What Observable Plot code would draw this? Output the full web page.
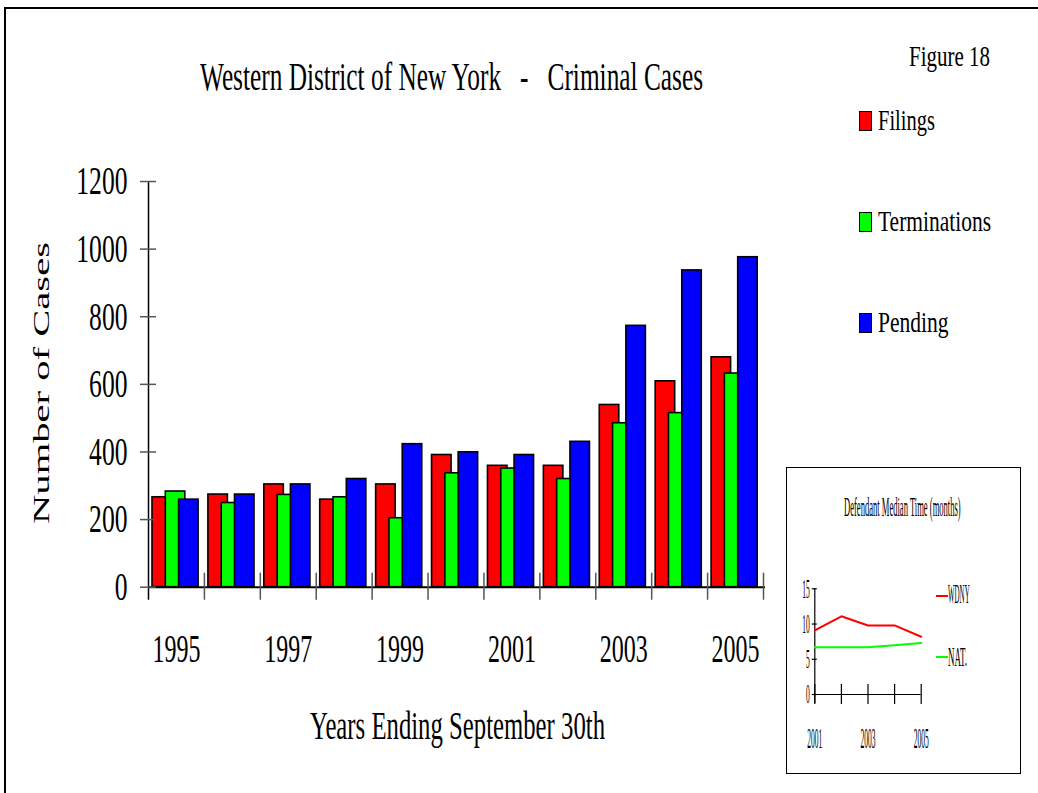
<!DOCTYPE html>
<html>
<head>
<meta charset="utf-8">
<script src="https://cdn.jsdelivr.net/npm/d3@7"></script>
<script src="https://cdn.jsdelivr.net/npm/@observablehq/plot@0.6"></script>
<style>
  html, body { margin: 0; padding: 0; background: #fff; }
  body { width: 1038px; height: 793px; overflow: hidden; position: relative; font-family: 'Liberation Serif', 'Times New Roman', serif; }
  .abs { position: absolute; }
  .txt { position: absolute; white-space: pre; line-height: 1; color: #000; font-family: 'Liberation Serif', 'Times New Roman', serif; }
</style>
</head>
<body>
<div id="frame" class="abs" style="left:4px;top:7px;width:1100px;height:900px;border-top:2px solid #000;border-left:2px solid #000;"></div>
<div id="main" class="abs" style="left:0;top:160px;"></div>
<div id="insetBox" class="abs" style="left:786px;top:467px;width:235px;height:307px;border:1.5px solid #000;box-sizing:border-box;"></div>
<div id="inset" class="abs" style="left:787px;top:468px;"></div>
<script>
// ---------- data ----------
const years = [1995, 1996, 1997, 1998, 1999, 2000, 2001, 2002, 2003, 2004, 2005];
const filings      = [266, 274, 304, 259, 304, 391, 359, 359, 539, 609, 680];
const terminations = [283, 249, 273, 266, 204, 337, 351, 320, 485, 515, 632];
const pending      = [259, 274, 304, 320, 423, 399, 391, 430, 773, 937, 976];
const seriesNames = ["Filings", "Terminations", "Pending"];
const seriesColors = ["#ff0000", "#00ff00", "#0000ff"];
const yTicks = [0, 200, 400, 600, 800, 1000, 1200];
const xLabelYears = [1995, 1997, 1999, 2001, 2003, 2005];

const insetYears = [2001, 2002, 2003, 2004, 2005];
const wdny = [9.1, 11.1, 9.8, 9.8, 8.2];
const nat  = [6.7, 6.7, 6.7, 7.0, 7.3];
const insetYTicks = [0, 5, 10, 15];
const insetXLabels = [2001, 2003, 2005];
const insetSeries = ["WDNY", "NAT."];
const insetColors = ["#ff0000", "#00ff00"];

// ---------- main chart ----------
const W = 790, H = 510, mL = 148, mR = 27, mT = 21, mB = 83.3;
const xPx = (W - mL - mR) / 11;          // px per year band
const yPx = (H - mT - mB) / 1200;        // px per case
const barOff = 4 / xPx, barStep = 13.3 / xPx, barW = 19.5 / xPx;

const values = [filings, terminations, pending];
const rows = seriesNames.flatMap((s, si) =>
  years.map((yr, i) => ({year: yr, series: s, si, value: values[si][i]})));
const boundaries = years.map(y => y + 0.5);

const main = Plot.plot({
  width: W, height: H,
  marginLeft: mL, marginRight: mR, marginTop: mT, marginBottom: mB,
  style: {fontFamily: "'Liberation Serif', 'Times New Roman', serif", fontSize: "40px", color: "#000", background: "transparent", overflow: "visible"},
  x: {type: "linear", domain: [1994.5, 2005.5]},
  y: {domain: [0, 1200]},
  color: {domain: seriesNames, range: seriesColors},
  marks: [
    Plot.rectY(rows, {
      x1: d => d.year - 0.5 + barOff + d.si * barStep,
      x2: d => d.year - 0.5 + barOff + d.si * barStep + barW,
      y1: 0, y2: "value",
      fill: "series", stroke: "#000", strokeWidth: 1.6
    }),
    Plot.ruleX([1994.5], {y1: -13 / yPx, y2: 1200, stroke: "#000", strokeWidth: 1.5}),
    Plot.ruleY([0], {x1: 1994.5, x2: 2005.5 + 2 / xPx, stroke: "#000", strokeWidth: 2}),
    Plot.ruleX(boundaries, {y1: -13 / yPx, y2: 14 / yPx, stroke: "#555", strokeWidth: 1.5}),
    Plot.ruleY(yTicks, {x1: 1994.5 - 8 / xPx, x2: 1994.5 + 8 / xPx, stroke: "#555", strokeWidth: 1.5}),
    Plot.axisY({ticks: yTicks, anchor: "left", label: null, tickSize: 0, tickPadding: 21, fontSize: 40, tickFormat: d => String(d)}),
    Plot.axisX({ticks: xLabelYears, anchor: "bottom", label: null, tickSize: 0, tickPadding: 46.6, fontSize: 40, tickFormat: d => String(d)})
  ]
});
document.getElementById("main").appendChild(main);

// ---------- inset chart ----------
const IW = 234, IH = 306, imL = 27.3, imR = 100.3, imT = 120.3, imB = 80;
const ixPx = (IW - imL - imR) / 4;
const iyPx = (IH - imT - imB) / 15;
const inset = Plot.plot({
  width: IW, height: IH,
  marginLeft: imL, marginRight: imR, marginTop: imT, marginBottom: imB,
  style: {fontFamily: "'Liberation Serif', 'Times New Roman', serif", fontSize: "28px", color: "#000", background: "transparent", overflow: "visible"},
  x: {type: "linear", domain: [2001, 2005]},
  y: {domain: [0, 15]},
  marks: [
    Plot.ruleX([2001], {y1: -9 / iyPx, y2: 15, stroke: "#000", strokeWidth: 1.2}),
    Plot.ruleY([0], {x1: 2001, x2: 2005, stroke: "#000", strokeWidth: 1.2}),
    Plot.ruleX(insetYears, {y1: -10 / iyPx, y2: 10 / iyPx, stroke: "#000", strokeWidth: 1.2}),
    Plot.ruleY(insetYTicks, {x1: 2001 - 2.5 / ixPx, x2: 2001 + 2.5 / ixPx, stroke: "#000", strokeWidth: 1.2}),
    Plot.line(insetYears, {x: d => d, y: (d, i) => wdny[i], stroke: insetColors[0], strokeWidth: 2}),
    Plot.line(insetYears, {x: d => d, y: (d, i) => nat[i], stroke: insetColors[1], strokeWidth: 2}),
    Plot.axisY({ticks: insetYTicks, anchor: "left", label: null, tickSize: 0, tickPadding: 5, fontSize: 28, tickFormat: d => String(d)}),
    Plot.axisX({ticks: insetXLabels, anchor: "bottom", label: null, tickSize: 0, tickPadding: 33.4, fontSize: 29, tickFormat: d => String(d)})
  ]
});
document.getElementById("inset").appendChild(inset);

// condense svg tick labels (the original uses a narrow Times face)
function condense(svg, sel, k) {
  svg.querySelectorAll(sel).forEach(t => {
    const w = t.getComputedTextLength();
    t.setAttribute("textLength", (w * k).toFixed(2));
    t.setAttribute("lengthAdjust", "spacingAndGlyphs");
  });
}
condense(main, 'g[aria-label="y-axis tick label"] text', 0.64);
condense(main, 'g[aria-label="x-axis tick label"] text', 0.6);
condense(inset, 'g[aria-label="y-axis tick label"] text', 0.27);
condense(inset, 'g[aria-label="x-axis tick label"] text', 0.26);

// ---------- html texts ----------
function placeText(str, left, baseline, size, width) {
  const s = document.createElement("span");
  s.className = "txt";
  s.textContent = str;
  s.style.fontSize = size + "px";
  s.style.left = left + "px";
  s.style.top = (baseline - 0.8375 * size) + "px";
  document.body.appendChild(s);
  const nat = s.getBoundingClientRect().width;
  s.style.transformOrigin = "0 0";
  s.style.transform = `scaleX(${width / nat})`;
  return s;
}
placeText("Western District of New York   -   Criminal Cases", 200, 90, 40, 503);
placeText("Figure 18", 909, 66, 30, 81);
placeText("Years Ending September 30th", 310, 739.3, 40, 295);

// y axis title (rotated, stretched)
(function () {
  const s = document.createElement("span");
  s.className = "txt";
  s.textContent = "Number of Cases";
  s.style.fontSize = "24px";
  document.body.appendChild(s);
  const nat = s.getBoundingClientRect().width;
  const k = 282 / nat;
  s.style.left = "41px";
  s.style.top = "383px";
  s.style.transform = `translate(-50%, -50%) rotate(-90deg) scaleX(${k})`;
})();

// main legend
const legendBaselines = [130, 231, 332.7];
const legendWidths = [57, 113, 70.6];
seriesNames.forEach((name, i) => {
  const sw = document.createElement("div");
  sw.className = "abs";
  Object.assign(sw.style, {
    left: "859px", top: (legendBaselines[i] - 19.5) + "px", width: "13px", height: "20px",
    background: seriesColors[i], border: "1.5px solid #000", boxSizing: "border-box"
  });
  document.body.appendChild(sw);
  placeText(name, 878, legendBaselines[i], 29, legendWidths[i]);
});

// inset title & legend
placeText("Defendant Median Time (months)", 844, 516.3, 27, 116.7);
const insetLegendY = [596, 657.3];
const insetLegendBase = [603, 666.7];
const insetLegendW = [21.7, 19];
insetSeries.forEach((name, i) => {
  const ln = document.createElement("div");
  ln.className = "abs";
  Object.assign(ln.style, {left: "935.7px", top: (insetLegendY[i] - 1) + "px", width: "12.6px", height: "2px", background: insetColors[i]});
  document.body.appendChild(ln);
  placeText(name, 948.3, insetLegendBase[i], 28, insetLegendW[i]);
});
</script>
</body>
</html>
